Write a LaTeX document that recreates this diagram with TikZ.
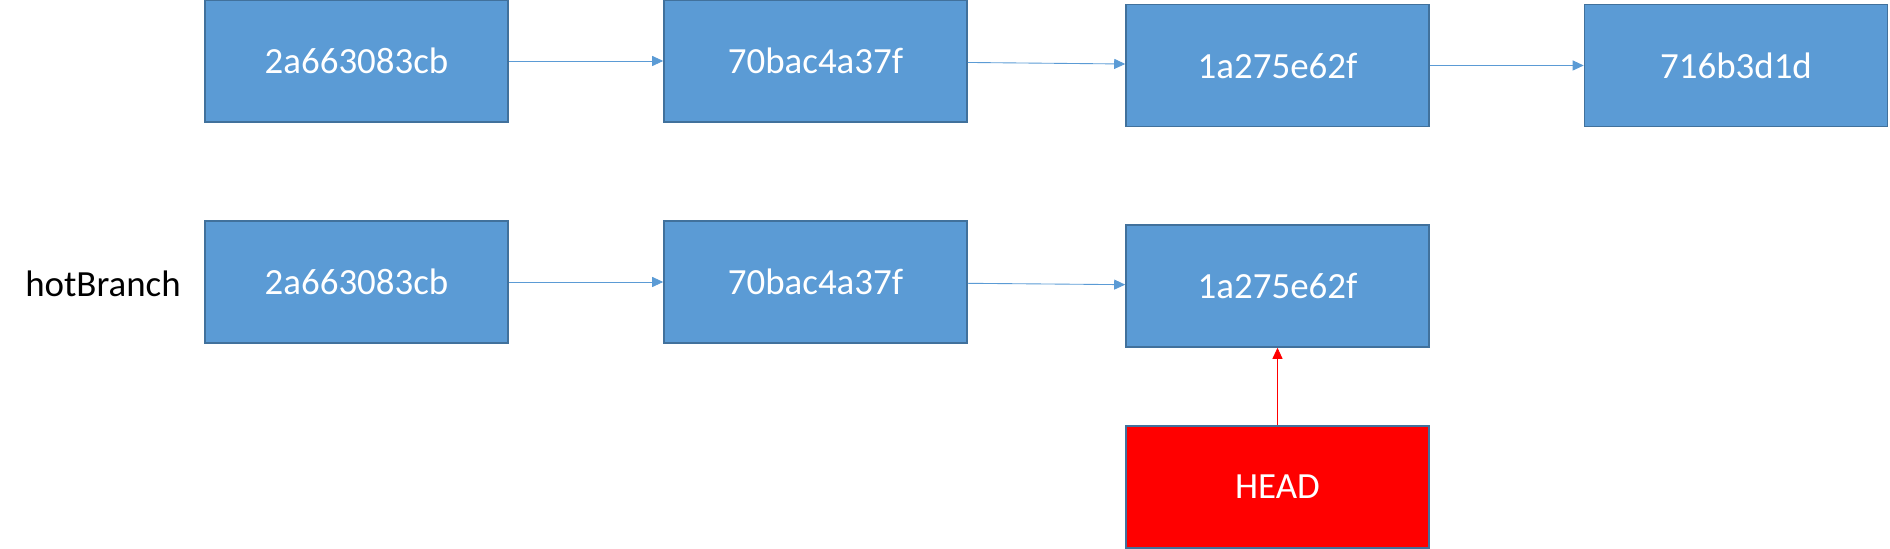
\documentclass[tikz,border=0pt]{standalone}
\usepackage{fontspec}
\setmainfont{Carlito}
\usetikzlibrary{arrows.meta}
\definecolor{commitblue}{HTML}{5B9BD5}
\definecolor{commitedge}{HTML}{41719C}
\tikzset{
    commit/.style={draw=commitedge, line width=0.9pt, fill=commitblue, text=white,
        minimum width=6.06cm, minimum height=2.44cm, inner sep=0pt,
        font=\fontsize{21}{25}\selectfont},
    headbox/.style={commit, fill=red},
    link/.style={draw=commitblue, line width=0.5pt, -{Triangle[length=0.22cm,width=0.2cm]}},
    headlink/.style={link, draw=red}
}
\begin{document}
\begin{tikzpicture}
    \useasboundingbox (0,0) rectangle (37.8,10.98);
    % master
    \node[commit] (m1) at (7.13,9.76) {2a663083cb};
    \node[commit] (m2) at (16.31,9.76) {70bac4a37f};
    \node[commit] (m3) at (25.55,9.67) {1a275e62f};
    \node[commit] (m4) at (34.72,9.67) {716b3d1d};
    \draw[link] (m1) -- (m2);
    \draw[link] (m2) -- (m3);
    \draw[link] (m3) -- (m4);
    % hotBranch
    \node[font=\fontsize{21}{25}\selectfont] (hb) at (2.06,5.3) {hotBranch};
    \node[commit] (h1) at (7.13,5.34) {2a663083cb};
    \node[commit] (h2) at (16.31,5.34) {70bac4a37f};
    \node[commit] (h3) at (25.55,5.26) {1a275e62f};
    \draw[link] (h1) -- (h2);
    \draw[link] (h2) -- (h3);
    % HEAD
    \node[headbox] (head) at (25.55,1.24) {HEAD};
    \draw[headlink] (head) -- (h3);
\end{tikzpicture}
\end{document}
